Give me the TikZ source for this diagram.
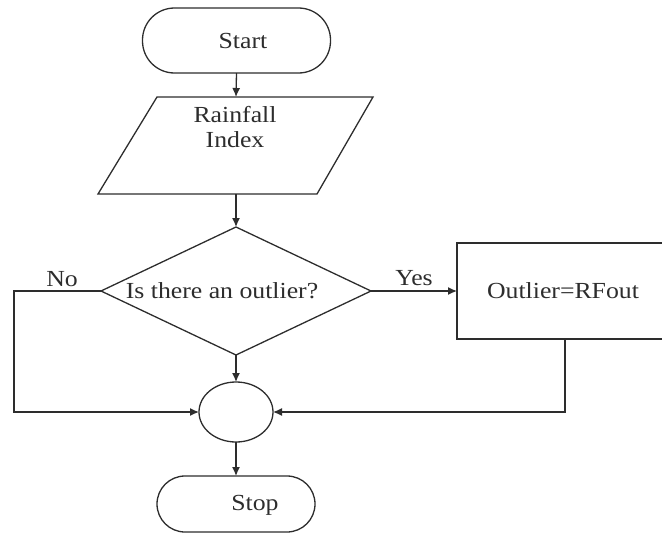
\documentclass[tikz,border=0pt]{standalone}
\usepackage{fontspec}
\setmainfont[FakeStretch=1.12]{Liberation Serif}
\usetikzlibrary{shapes.geometric,arrows.meta}
\definecolor{ink}{RGB}{45,45,45}
\begin{document}
\begin{tikzpicture}[x=1pt,y=-1pt,
  every node/.style={inner sep=0pt, outer sep=0pt, text=ink, font=\fontsize{23}{25}\selectfont},
  shp/.style={draw=ink, line width=1.3pt},
  conn/.style={draw=ink, line width=1.3pt},
  arr/.style={conn, -{Latex[length=9pt,width=8pt]}},
  lbl/.style={}]
\useasboundingbox (0,0) rectangle (662,533);
% shapes
\node[shp, rounded corners=32pt, minimum width=188pt, minimum height=65pt] (start) at (236.5,40.5) {};
\node[lbl] (startlbl) at (243,41) {Start};
\coordinate (p1) at (157,97);
\coordinate (p2) at (373,97);
\coordinate (p3) at (317,194);
\coordinate (p4) at (98,194);
\draw[shp] (p1) -- (p2) -- (p3) -- (p4) -- cycle;
\coordinate (raintop) at (236,97);
\coordinate (rainbot) at (236,194);
\node[lbl, align=center] (rain) at (235,127.5) {Rainfall\\Index};
\node[shp, diamond, minimum width=270pt, minimum height=128pt] (dec) at (236,291) {};
\node[lbl] (declbl) at (222,291) {Is there an outlier?};
\node[shp, rectangle, minimum width=207pt, minimum height=96pt] (box) at (560.5,291) {};
\node[lbl] (boxlbl) at (563,291) {Outlier=RFout};
\node[shp, ellipse, minimum width=74pt, minimum height=60pt] (join) at (236,412) {};
\node[shp, rounded corners=28pt, minimum width=158pt, minimum height=56pt] (stop) at (236,504) {};
\node[lbl] (stoplbl) at (255,505) {Stop};
% connectors
\draw[arr] (start.south) -- (raintop);
\draw[arr] (rainbot) -- (dec.north);
\draw[arr] (dec.east) -- (box.west) node[lbl, midway, above=5pt] (yes) {Yes};
\coordinate (nocorner) at (14,291);
\coordinate (nodown) at (14,412);
\draw[arr] (dec.west) -- (nocorner) -- (nodown) -- (join.west);
\node[lbl] (no) at (62,279) {No};
\draw[arr] (dec.south) -- (join.north);
\coordinate (boxout) at (565,339);
\coordinate (boxdown) at (565,412);
\draw[arr] (boxout) -- (boxdown) -- (join.east);
\draw[arr] (join.south) -- (stop.north);
\end{tikzpicture}
\end{document}
